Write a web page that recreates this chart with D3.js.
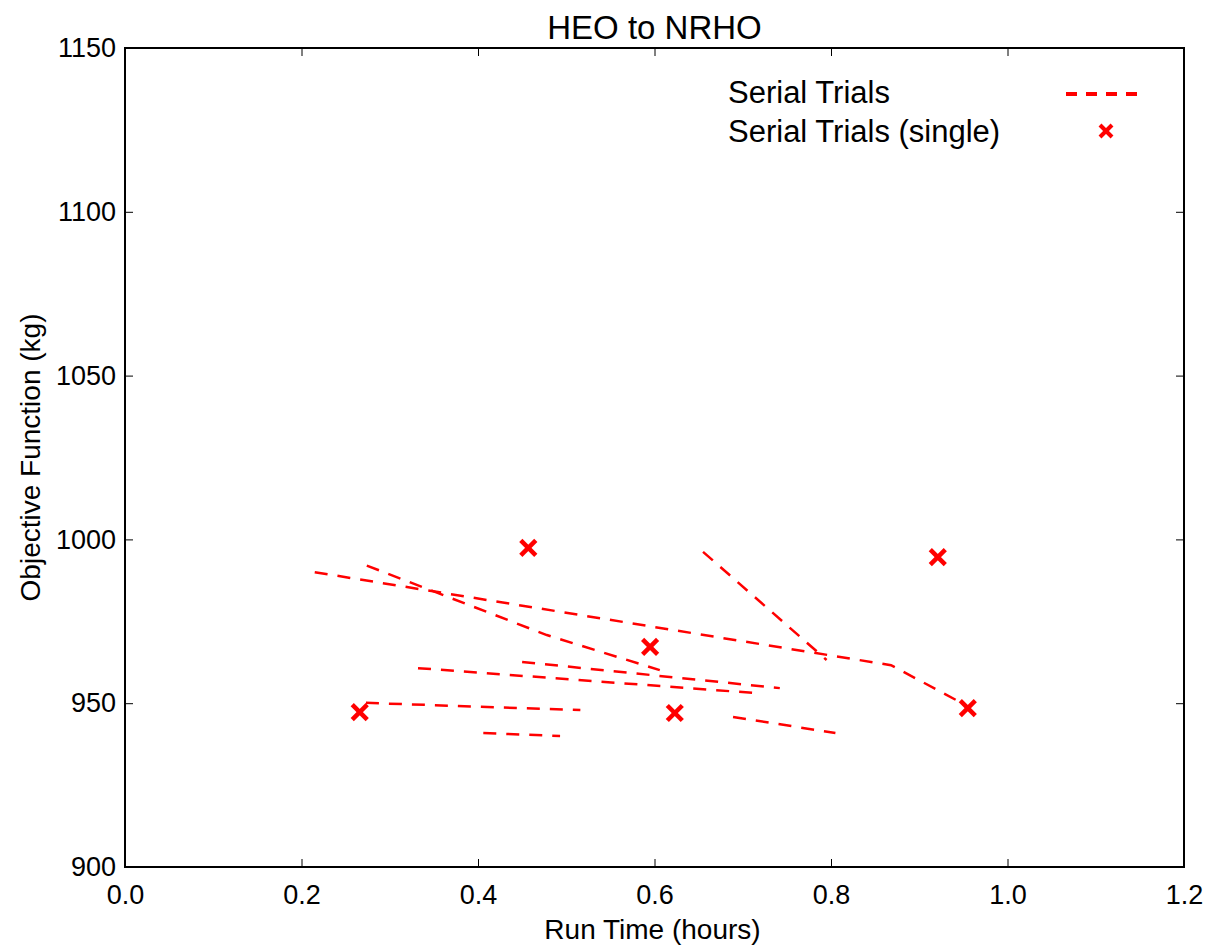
<!DOCTYPE html>
<html>
<head>
<meta charset="utf-8">
<script src="https://cdn.jsdelivr.net/npm/d3@7"></script>
<style>
  body { margin: 0; background: #fff; }
  text { font-family: "Liberation Sans", Arial, sans-serif; fill: #000; }
</style>
</head>
<body>
<div id="chart-container"></div>
<script>
// serial trial runs (run time in hours, objective in kg)
const trialA = [[0.215, 990], [0.868, 961.6], [0.952, 949.5]];
const trialB = [[0.274, 992], [0.478, 970.8], [0.606, 960.1]];
const trialC = [[0.332, 960.7], [0.714, 953.1]];
const trialD = [[0.45, 962.6], [0.742, 954.6]];
const trialE = [[0.273, 950.1], [0.516, 947.9]];
const trialF = [[0.406, 940.9], [0.493, 940.0]];
const trialG = [[0.689, 945.8], [0.805, 940.9]];
const trialH = [[0.655, 996.2], [0.795, 963.2]];
const trials = [trialA, trialB, trialC, trialD, trialE, trialF, trialG, trialH];

// single serial trials
const singles = [[0.266, 947.3], [0.457, 997.4], [0.595, 967.2], [0.623, 947.0], [0.921, 994.6], [0.955, 948.5]];

const xTicks = [0, 0.2, 0.4, 0.6, 0.8, 1.0, 1.2];
const yTicks = [900, 950, 1000, 1050, 1100, 1150];
const legendLabels = ["Serial Trials", "Serial Trials (single)"];

const width = 1209;
const height = 945;
const margins = { top: 48, right: 25, bottom: 78, left: 125 };
const chartWidth = width - margins.left - margins.right;
const chartHeight = height - margins.top - margins.bottom;

const xScale = d3.scaleLinear().domain([0, 1.2]).range([0, chartWidth]);
const yScale = d3.scaleLinear().domain([900, 1150]).range([chartHeight, 0]);

const svg = d3
  .select("#chart-container")
  .append("svg")
  .attr("width", width)
  .attr("height", height);

const chart = svg
  .append("g")
  .attr("transform", `translate(${margins.left}, ${margins.top})`);

// axes, ticks pointing inward like matplotlib classic
const styleAxis = (g, hideLabels) => {
  g.select(".domain").remove();
  g.selectAll(".tick line").attr("stroke", "#000").attr("stroke-width", 1);
  g.selectAll(".tick text").style("font-size", "27px").style("font-family", "Liberation Sans, Arial, sans-serif");
  if (hideLabels) g.selectAll(".tick text").remove();
};

chart
  .append("g")
  .attr("transform", `translate(0, ${chartHeight})`)
  .call(d3.axisBottom(xScale).tickValues(xTicks).tickFormat(d3.format(".1f")).tickSizeInner(-8).tickSizeOuter(0).tickPadding(18))
  .call(g => styleAxis(g, false));

chart
  .append("g")
  .call(d3.axisTop(xScale).tickValues(xTicks).tickSizeInner(-8).tickSizeOuter(0))
  .call(g => styleAxis(g, true));

chart
  .append("g")
  .call(d3.axisLeft(yScale).tickValues(yTicks).tickFormat(d3.format("d")).tickSizeInner(-8).tickSizeOuter(0).tickPadding(9))
  .call(g => styleAxis(g, false));

chart
  .append("g")
  .attr("transform", `translate(${chartWidth}, 0)`)
  .call(d3.axisRight(yScale).tickValues(yTicks).tickSizeInner(-8).tickSizeOuter(0))
  .call(g => styleAxis(g, true));

chart
  .append("rect")
  .attr("width", chartWidth)
  .attr("height", chartHeight)
  .attr("fill", "none")
  .attr("stroke", "#000")
  .attr("stroke-width", 2);

const line = d3.line().x(d => xScale(d[0])).y(d => yScale(d[1]));

chart
  .selectAll("path.trial")
  .data(trials)
  .enter()
  .append("path")
  .attr("class", "trial")
  .attr("d", line)
  .attr("fill", "none")
  .attr("stroke", "#ff0000")
  .attr("stroke-width", 2.5)
  .attr("stroke-dasharray", "13,10");

const cross = (sel, size, sw) => {
  sel.append("line").attr("x1", -size).attr("y1", -size).attr("x2", size).attr("y2", size);
  sel.append("line").attr("x1", -size).attr("y1", size).attr("x2", size).attr("y2", -size);
  sel.attr("stroke", "#ff0000").attr("stroke-width", sw);
};

chart
  .selectAll("g.single")
  .data(singles)
  .enter()
  .append("g")
  .attr("class", "single")
  .attr("transform", d => `translate(${xScale(d[0])}, ${yScale(d[1])})`)
  .each(function () { cross(d3.select(this), 7.5, 4.5); });

// title and axis labels
svg.append("text")
  .attr("x", margins.left + chartWidth / 2)
  .attr("y", 39)
  .attr("text-anchor", "middle")
  .style("font-size", "33px")
  .text("HEO to NRHO");

svg.append("text")
  .attr("x", margins.left + chartWidth / 2 - 2)
  .attr("y", 939)
  .attr("text-anchor", "middle")
  .style("font-size", "28px")
  .text("Run Time (hours)");

svg.append("text")
  .attr("transform", `translate(40, ${margins.top + chartHeight / 2}) rotate(-90)`)
  .attr("text-anchor", "middle")
  .style("font-size", "28px")
  .text("Objective Function (kg)");

// legend
const legend = svg.append("g");
legend.selectAll("text")
  .data(legendLabels)
  .enter()
  .append("text")
  .attr("x", 728)
  .attr("y", (d, i) => 103 + i * 39)
  .style("font-size", "31px")
  .text(d => d);

legend.append("line")
  .attr("x1", 1066).attr("x2", 1138)
  .attr("y1", 94).attr("y2", 94)
  .attr("stroke", "#ff0000")
  .attr("stroke-width", 4)
  .attr("stroke-dasharray", "11,9");

legend.append("g")
  .attr("transform", "translate(1106, 131)")
  .call(g => cross(g, 6, 4));
</script>
</body>
</html>
